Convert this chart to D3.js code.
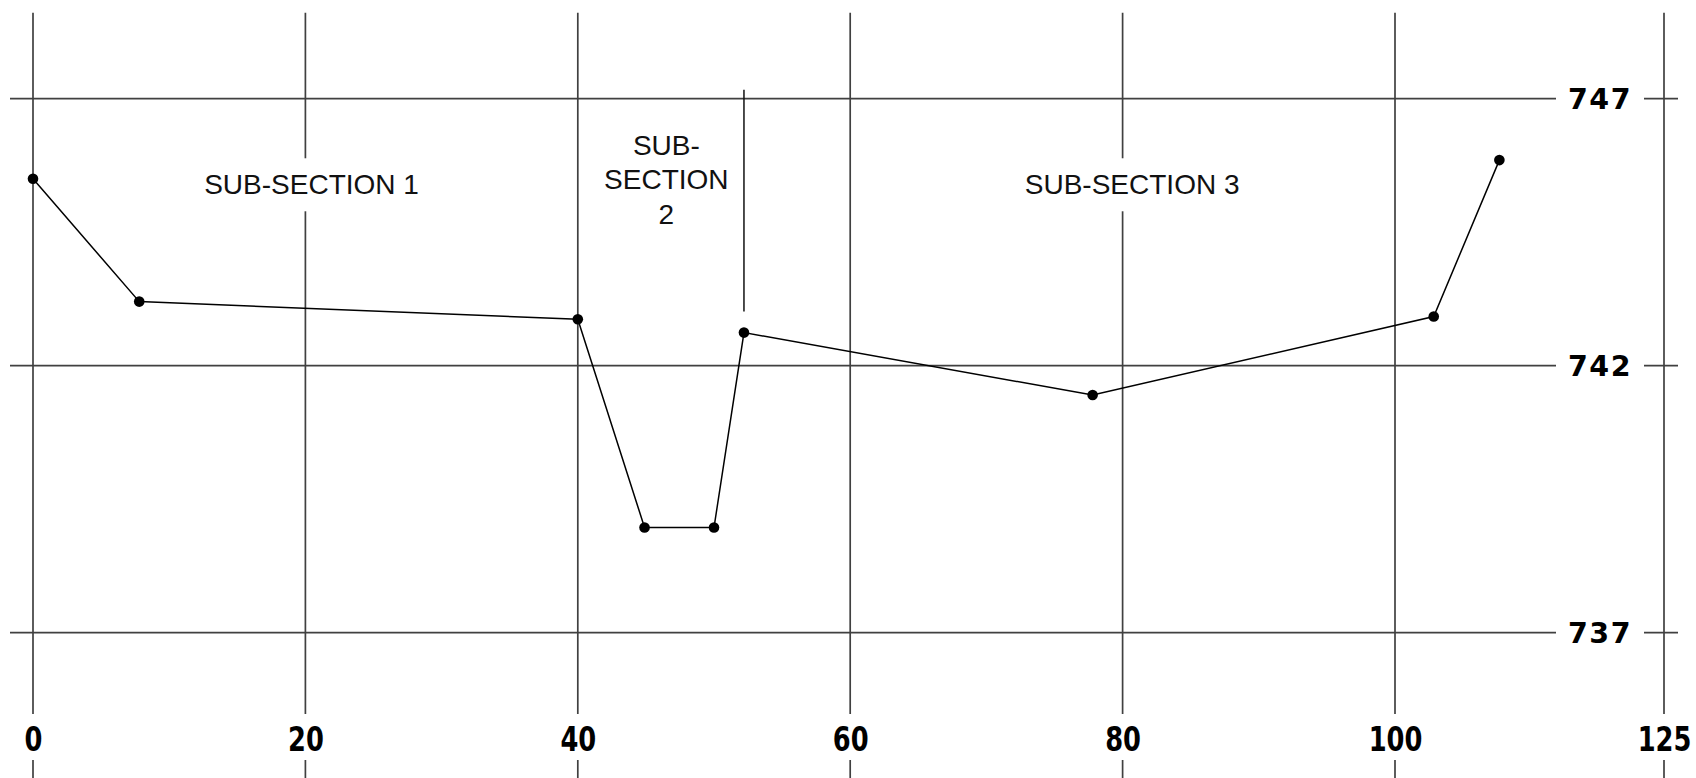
<!DOCTYPE html>
<html>
<head>
<meta charset="utf-8">
<script src="https://cdn.jsdelivr.net/npm/d3@7"></script>
<style>
  html, body { margin: 0; padding: 0; background: #fff; overflow: hidden; }
  svg { display: block; }
</style>
</head>
<body>
<svg id="chart" width="1696" height="778"></svg>
<script>
// Cross-section survey: station along the section and ground elevation at each shot
const stations   = [0, 7.8, 40, 44.9, 50, 52.2, 77.8, 103.6, 109.7];
const elevations = [745.5, 743.2, 742.87, 738.97, 738.97, 742.62, 741.45, 742.92, 745.85];

// Axis ticks
const xTicks = [0, 20, 40, 60, 80, 100, 125];
const yTicks = [737, 742, 747];

// Sub-sections: boundary station, names and the station each name is centred on
const sectionBoundary = 52.2;
const sectionNames = [["SUB-SECTION 1"], ["SUB-", "SECTION", "2"], ["SUB-SECTION 3"]];
const sectionNameStations = [20.45, 46.5, 80.7];

const W = 1696, H = 778;
const gridTop = 12.7, gridLeft = 10, gridRight = 1678;
const xLabelY = 739.5, xGapTop = 714, xGapBottom = 760;
const yLabelX = 1600;

const svg = d3.select("#chart");

// The last grid interval (100–125) is drawn at the same spacing as the 20-unit ones
const x = d3.scaleLinear()
  .domain([0, 100, 125])
  .range([33, 1395, 1664]);
const y = d3.scaleLinear().domain([737, 747]).range([632.7, 98.7]);

const gridColor = "#404040";

// Horizontal grid lines
svg.append("g").selectAll("line").data(yTicks).join("line")
  .attr("x1", gridLeft).attr("x2", gridRight)
  .attr("y1", d => y(d)).attr("y2", d => y(d))
  .attr("stroke", gridColor).attr("stroke-width", 1.7);

// Vertical grid lines, broken around the station labels
const vSegs = xTicks.flatMap(t => [[t, gridTop, xGapTop], [t, xGapBottom, H]]);
svg.append("g").selectAll("line").data(vSegs).join("line")
  .attr("x1", d => x(d[0])).attr("x2", d => x(d[0]))
  .attr("y1", d => d[1]).attr("y2", d => d[2])
  .attr("stroke", gridColor).attr("stroke-width", 1.7);

// Boundary between sub-sections 2 and 3
const bElev = elevations[stations.indexOf(sectionBoundary)];
svg.append("line")
  .attr("x1", x(sectionBoundary)).attr("x2", x(sectionBoundary))
  .attr("y1", y(747) - 9).attr("y2", y(bElev) - 21)
  .attr("stroke", "#111").attr("stroke-width", 1.5);

// Sub-section names with a white knock-out behind them
const secG = svg.append("g");
sectionNames.forEach((lines, i) => {
  const g = secG.append("g");
  const bg = g.append("rect").attr("fill", "#fff");
  const lh = 34.5;
  const base = y(745.21) - (lines.length > 1 ? 5 : 0);
  const t = g.append("text")
    .attr("text-anchor", "middle")
    .attr("font-family", "'Liberation Sans', Arial, sans-serif")
    .attr("font-size", 28)
    .attr("fill", "#111");
  lines.forEach((s, k) => {
    t.append("tspan")
      .attr("x", x(sectionNameStations[i]))
      .attr("y", base + (k - (lines.length - 1) / 2) * lh)
      .text(s);
  });
  const bb = t.node().getBBox();
  bg.attr("x", bb.x - 6).attr("y", bb.y - 11)
    .attr("width", bb.width + 12).attr("height", bb.height + 22);
});

// Elevation labels on the right, breaking the grid lines
const yAxisG = svg.append("g");
yTicks.forEach(v => {
  const g = yAxisG.append("g");
  const bg = g.append("rect").attr("fill", "#fff");
  const t = g.append("text")
    .attr("x", yLabelX).attr("y", y(v)).attr("dy", "0.36em")
    .attr("text-anchor", "middle")
    .attr("font-family", "'DejaVu Sans', sans-serif")
    .attr("font-weight", "bold")
    .attr("font-size", 28.5)
    .attr("letter-spacing", 1.5)
    .attr("fill", "#000")
    .text(v);
  const bb = t.node().getBBox();
  bg.attr("x", bb.x - 12).attr("y", bb.y)
    .attr("width", bb.width + 24).attr("height", bb.height);
});

// Station labels along the bottom (narrow lettering)
const xAxis = d3.axisBottom(x).tickValues(xTicks).tickSize(0).tickFormat(d => String(d));
const xAxisG = svg.append("g")
  .attr("transform", `translate(0,${xLabelY})`)
  .call(xAxis);
xAxisG.select(".domain").remove();
xAxisG.selectAll("text")
  .attr("x", 0).attr("y", 0).attr("dy", "0.36em")
  .attr("transform", "scale(0.78,1)")
  .attr("text-anchor", "middle")
  .attr("font-family", "'DejaVu Sans', sans-serif")
  .attr("font-weight", "bold")
  .attr("font-size", 33)
  .attr("fill", "#000");

// Ground profile
const pts = stations.map((s, i) => [s, elevations[i]]);
svg.append("path")
  .datum(pts)
  .attr("fill", "none")
  .attr("stroke", "#000")
  .attr("stroke-width", 1.5)
  .attr("d", d3.line().x(d => x(d[0])).y(d => y(d[1])));

svg.append("g").selectAll("circle").data(pts).join("circle")
  .attr("cx", d => x(d[0])).attr("cy", d => y(d[1]))
  .attr("r", 5.3).attr("fill", "#000");
</script>
</body>
</html>
